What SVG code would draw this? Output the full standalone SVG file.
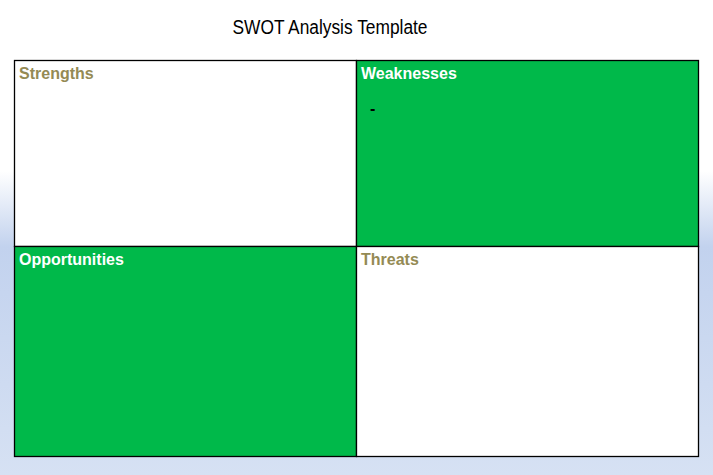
<svg xmlns="http://www.w3.org/2000/svg" width="713" height="475" viewBox="0 0 713 475">
<defs>
<linearGradient id="bg" x1="0" y1="0" x2="0" y2="1">
<stop offset="0" stop-color="#ffffff"/>
<stop offset="0.36" stop-color="#ffffff"/>
<stop offset="0.52" stop-color="#c2d2ee"/>
<stop offset="1" stop-color="#d6e1f3"/>
</linearGradient>
</defs>
<style>
.cell{stroke:#000;stroke-width:1.3}
.g{fill:#00b94a}
.w{fill:#fff}
.lbl{font-family:"Liberation Sans",Arial,sans-serif;font-weight:bold;font-size:16px}
.ol{fill:#948a54}
.wt{fill:#fff}
</style>
<rect x="0" y="0" width="713" height="475" fill="url(#bg)"/>
<text x="330" y="34" text-anchor="middle" font-family="Liberation Sans,Arial,sans-serif" font-size="20" textLength="195" lengthAdjust="spacingAndGlyphs" fill="#000">SWOT Analysis Template</text>
<g id="strengths">
<rect class="cell w" x="14.5" y="60.5" width="342" height="186"/>
<text class="lbl ol" x="19" y="79">Strengths</text>
</g>
<g id="weaknesses">
<rect class="cell g" x="356.5" y="60.5" width="342" height="186"/>
<text class="lbl wt" x="361" y="79">Weaknesses</text>
<text x="370" y="114" font-family="Liberation Sans,Arial,sans-serif" font-weight="bold" font-size="16" fill="#000">-</text>
</g>
<g id="opportunities">
<rect class="cell g" x="14.5" y="246.5" width="342" height="210"/>
<text class="lbl wt" x="19" y="265">Opportunities</text>
</g>
<g id="threats">
<rect class="cell w" x="356.5" y="246.5" width="342" height="210"/>
<text class="lbl ol" x="361" y="265">Threats</text>
</g>
<g id="connectors"></g>
</svg>
